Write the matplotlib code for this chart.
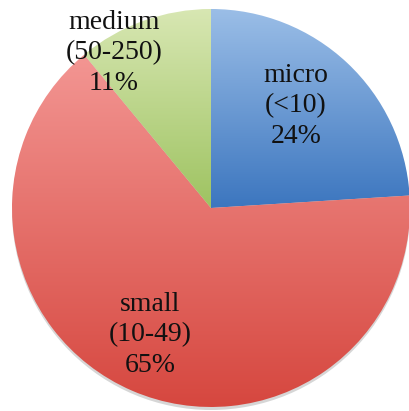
import numpy as np
import matplotlib.pyplot as plt
from matplotlib.colors import LinearSegmentedColormap

labels = ['micro\n(<10)\n24%', 'small\n(10-49)\n65%', 'medium\n(50-250)\n11%']
shares = [24, 65, 11]
tops = ['#9bbee7', '#f39693', '#d8e7b3']
bottoms = ['#3c76bf', '#d6473f', '#9ec361']
label_pos = [(296, 305), (150, 76), (114, 358)]

plt.rcParams['font.family'] = ['Liberation Serif', 'DejaVu Serif']

fig = plt.figure(figsize=(4.10, 4.11), dpi=100)
ax = fig.add_axes([0, 0, 1, 1])

# soft shadow under the pie
shadow = plt.Circle((211, 200), 199, color='#8a8a8a', alpha=0.35, lw=0)
ax.add_patch(shadow)

wedges, _ = ax.pie(shares, startangle=90, counterclock=False, radius=199,
                   center=(211, 203), frame=True,
                   wedgeprops=dict(linewidth=0))

# vertical gradient per slice, lighter at the top
grad = np.linspace(0, 1, 256).reshape(-1, 1)
for w, top, bot in zip(wedges, tops, bottoms):
    w.set_facecolor('none')
    w.set_edgecolor('none')
    path = w.get_path().transformed(w.get_patch_transform())
    ext = path.get_extents()
    cmap = LinearSegmentedColormap.from_list('g', [bot, top])
    im = ax.imshow(grad, cmap=cmap, aspect='auto', origin='lower',
                   extent=(ext.x0, ext.x1, ext.y0, ext.y1), zorder=2,
                   vmin=0, vmax=1)
    im.set_clip_path(w)

for txt, (x, y) in zip(labels, label_pos):
    ax.text(x, y, txt, ha='center', va='center', fontsize=20,
            color='#111111', linespacing=1.3, zorder=5)

ax.set_xlim(0, 410)
ax.set_ylim(0, 411)
ax.set_aspect('auto')
ax.axis('off')
fig.savefig('out.png', dpi=100, facecolor='white')
